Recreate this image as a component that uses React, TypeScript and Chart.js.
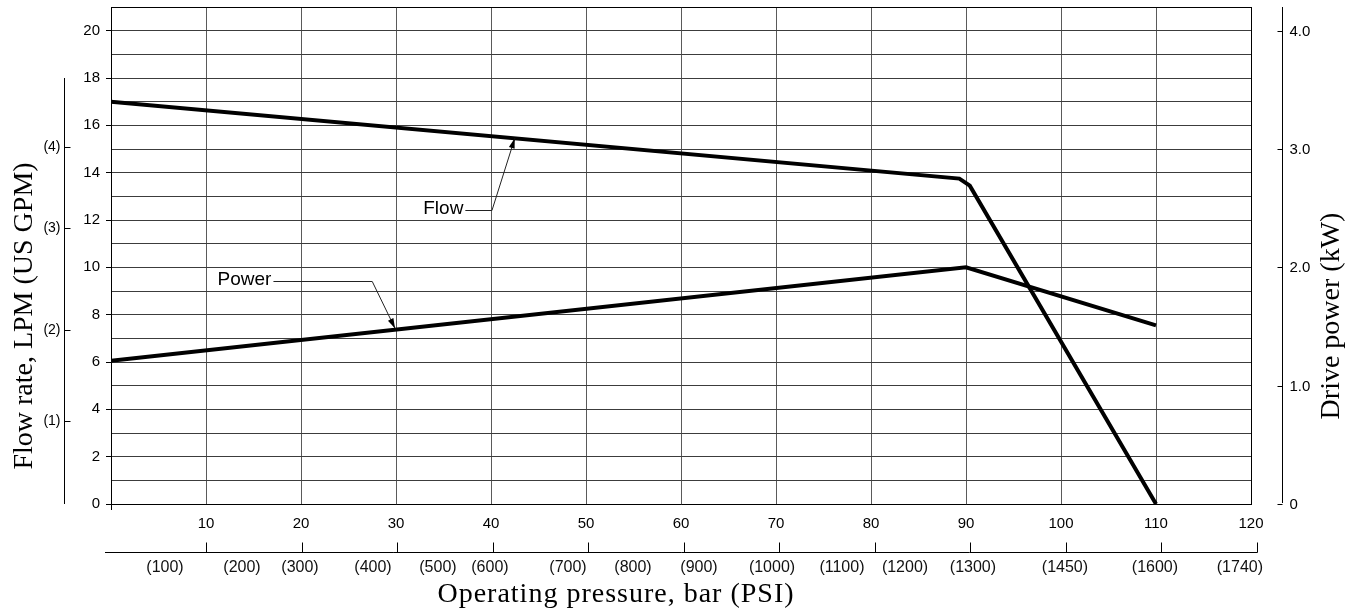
import { useEffect, useRef } from 'react';
import { Chart, registerables } from 'chart.js';

Chart.register(...registerables);

// ---- data ----
const flowPressureBar = [0, 89.3, 90.4, 110];
const flowLpm = [17.0, 13.75, 13.45, 0];
const powerPressureBar = [0, 90, 110];
const powerKw = [1.21, 2.0, 1.51];

const gpmTickLabels = ['(1)', '(2)', '(3)', '(4)'];
const gpmTickLpm = [3.5, 7.35, 11.65, 15.1];
const gpmAxisTopLpm = 18;

const kwTickValues = [0, 1, 2, 3, 4];
const kwTickLabels = ['0', '1.0', '2.0', '3.0', '4.0'];

const psiAxisTickBar = [10, 20, 30, 40, 50, 60, 70, 80, 90, 100, 110, 120];
const psiTickLabels = ['(100)', '(200)', '(300)', '(400)', '(500)', '(600)', '(700)', '(800)', '(900)', '(1000)', '(1100)', '(1200)', '(1300)', '(1450)', '(1600)', '(1740)'];
const psiTickBar = [5.71, 13.77, 19.84, 27.48, 34.28, 39.72, 47.89, 54.69, 61.6, 69.24, 76.56, 83.16, 90.27, 99.9, 109.32, 118.21];

const yTitle = 'Flow rate, LPM (US GPM)';
const y2Title = 'Drive power (kW)';
const xTitle = 'Operating pressure, bar (PSI)';
const flowNoteText = 'Flow';
const powerNoteText = 'Power';

const SANS = '"Liberation Sans", Arial, sans-serif';
const SERIF = '"Liberation Serif", "Times New Roman", serif';

function drawArrow(ctx: CanvasRenderingContext2D, x1: number, y1: number, x2: number, y2: number) {
  ctx.beginPath();
  ctx.moveTo(x1, y1);
  ctx.lineTo(x2, y2);
  ctx.stroke();
  const a = Math.atan2(y2 - y1, x2 - x1);
  const L = 10, W = 3;
  ctx.beginPath();
  ctx.moveTo(x2, y2);
  ctx.lineTo(x2 - L * Math.cos(a) + W * Math.sin(a), y2 - L * Math.sin(a) - W * Math.cos(a));
  ctx.lineTo(x2 - L * Math.cos(a) - W * Math.sin(a), y2 - L * Math.sin(a) + W * Math.cos(a));
  ctx.closePath();
  ctx.fill();
}

const decorPlugin = {
  id: 'decor',
  afterDraw(chart: any) {
    const ctx: CanvasRenderingContext2D = chart.ctx;
    const { left, top, bottom } = chart.chartArea;
    const x = chart.scales.x;
    const y = chart.scales.y;
    const y2 = chart.scales.y2;
    const x2 = chart.scales.x2;
    const r = (v: number) => Math.round(v) + 0.5;
    ctx.save();
    ctx.strokeStyle = '#000';
    ctx.fillStyle = '#000';
    ctx.lineWidth = 1;

    // GPM secondary axis
    const gx = 64.5;
    ctx.beginPath();
    ctx.moveTo(gx, y.getPixelForValue(gpmAxisTopLpm));
    ctx.lineTo(gx, y.getPixelForValue(0));
    ctx.stroke();
    ctx.font = `14px ${SANS}`;
    ctx.textAlign = 'right';
    ctx.textBaseline = 'middle';
    gpmTickLpm.forEach((v, i) => {
      const py = r(y.getPixelForValue(v));
      ctx.beginPath();
      ctx.moveTo(gx, py);
      ctx.lineTo(gx + 6, py);
      ctx.stroke();
      ctx.fillText(gpmTickLabels[i], gx - 4, py);
    });

    // kW axis
    const kx = 1282.5;
    ctx.beginPath();
    ctx.moveTo(kx, top);
    ctx.lineTo(kx, bottom - 1);
    ctx.stroke();
    ctx.font = `15px ${SANS}`;
    ctx.textAlign = 'left';
    kwTickValues.forEach((v, i) => {
      const py = r(y2.getPixelForValue(v));
      ctx.beginPath();
      ctx.moveTo(kx - 5, py);
      ctx.lineTo(kx, py);
      ctx.stroke();
      ctx.fillText(kwTickLabels[i], kx + 7, py);
    });

    // PSI axis
    const pyl = 552.5;
    ctx.beginPath();
    ctx.moveTo(left - 6, pyl);
    ctx.lineTo(r(x2.getPixelForValue(120)), pyl);
    ctx.stroke();
    psiAxisTickBar.forEach((v) => {
      const px = r(x2.getPixelForValue(v));
      ctx.beginPath();
      ctx.moveTo(px, pyl - 10);
      ctx.lineTo(px, pyl);
      ctx.stroke();
    });
    ctx.font = `16px ${SANS}`;
    ctx.textAlign = 'center';
    ctx.fillStyle = '#111';
    psiTickBar.forEach((v, i) => {
      ctx.fillText(psiTickLabels[i], x2.getPixelForValue(v), 568);
    });
    ctx.fillStyle = '#000';

    // titles
    ctx.font = `28px ${SERIF}`;
    ctx.textAlign = 'center';
    ctx.textBaseline = 'alphabetic';
    ctx.save();
    ctx.translate(32, 316);
    ctx.rotate(-Math.PI / 2);
    ctx.fillText(yTitle, 0, 0);
    ctx.restore();
    ctx.save();
    ctx.translate(1339, 316);
    ctx.rotate(-Math.PI / 2);
    ctx.fillText(y2Title, 0, 0);
    ctx.restore();
    (ctx as any).letterSpacing = '1px';
    ctx.fillText(xTitle, 616, 602);
    (ctx as any).letterSpacing = '0px';

    // annotations
    ctx.font = `19px ${SANS}`;
    ctx.textAlign = 'right';
    ctx.textBaseline = 'middle';
    ctx.strokeStyle = '#222';
    ctx.lineWidth = 1;
    // Flow
    {
      const sx = x.getPixelForValue(37.3);
      const ex = x.getPixelForValue(40.1);
      const ly = r(y.getPixelForValue(12.42));
      ctx.fillText(flowNoteText, sx - 2, ly - 2);
      ctx.beginPath();
      ctx.moveTo(sx, ly);
      ctx.lineTo(ex, ly);
      ctx.stroke();
      drawArrow(ctx, ex, ly, x.getPixelForValue(42.5), y.getPixelForValue(15.45));
    }
    // Power
    {
      const sx = x.getPixelForValue(17.1);
      const ex = x.getPixelForValue(27.5);
      const ly = r(y.getPixelForValue(9.42));
      ctx.fillText(powerNoteText, sx - 2, ly - 2);
      ctx.beginPath();
      ctx.moveTo(sx, ly);
      ctx.lineTo(ex, ly);
      ctx.stroke();
      drawArrow(ctx, ex, ly, x.getPixelForValue(29.9), y.getPixelForValue(7.42));
    }
    ctx.restore();
  },
};

export default function App() {
  const ref = useRef<HTMLCanvasElement | null>(null);
  useEffect(() => {
    if (!ref.current) return;
    const flowPts = flowPressureBar.map((b, i) => ({ x: b, y: flowLpm[i] }));
    const powerPts = powerPressureBar.map((b, i) => ({ x: b, y: powerKw[i] }));
    const chart = new Chart(ref.current, {
      type: 'line',
      data: {
        datasets: [
          { label: 'Flow', data: flowPts, xAxisID: 'x', yAxisID: 'y', borderColor: '#000', borderWidth: 4, pointRadius: 0, fill: false, tension: 0 },
          { label: 'Power', data: powerPts, xAxisID: 'x', yAxisID: 'y2', borderColor: '#000', borderWidth: 4, pointRadius: 0, fill: false, tension: 0 },
          { label: 'Flow-stripe', data: flowPts, xAxisID: 'x', yAxisID: 'y', borderColor: 'rgba(255,255,255,0.45)', borderWidth: 0.8, pointRadius: 0, fill: false, tension: 0 },
          { label: 'Power-stripe', data: powerPts, xAxisID: 'x', yAxisID: 'y2', borderColor: 'rgba(255,255,255,0.45)', borderWidth: 0.8, pointRadius: 0, fill: false, tension: 0 },
        ],
      },
      options: {
        responsive: false,
        animation: false,
        devicePixelRatio: 1,
        layout: { padding: { top: 7, left: 0, right: 105, bottom: 0 } },
        plugins: { legend: { display: false }, tooltip: { enabled: false } },
        events: [],
        scales: {
          x: {
            type: 'linear',
            position: 'bottom',
            min: 0,
            max: 120,
            ticks: {
              stepSize: 10,
              padding: 5,
              autoSkip: false,
              maxRotation: 0,
              color: '#000',
              font: { family: SANS, size: 15 },
              callback: (v: any) => (v === 0 ? '' : String(v)),
            },
            grid: {
              color: (c: any) => (c.tick && c.tick.value === 120 ? '#000' : '#5a5a5a'),
              lineWidth: 1,
              drawTicks: true,
              tickLength: 6,
              tickColor: (c: any) => (c.tick && c.tick.value === 0 ? '#000' : 'rgba(0,0,0,0)'),
            },
            border: { color: '#000', width: 1 },
            afterFit: (s: any) => {
              s.height = 109;
              s.paddingLeft = 0;
              s.paddingRight = 0;
            },
          },
          y: {
            type: 'linear',
            position: 'left',
            min: 0,
            max: 21,
            ticks: {
              stepSize: 1,
              padding: 6,
              autoSkip: false,
              color: '#000',
              font: { family: SANS, size: 15 },
              callback: (v: any) => (v % 2 === 0 && v <= 20 ? String(v) : ''),
            },
            grid: {
              color: (c: any) => (c.tick && c.tick.value === 21 ? '#000' : '#3c3c3c'),
              lineWidth: 1,
              tickLength: 5,
              tickColor: (c: any) => (c.tick && c.tick.value % 2 === 0 && c.tick.value <= 20 ? '#000' : 'rgba(0,0,0,0)'),
            },
            border: { color: '#000', width: 1 },
            afterFit: (s: any) => {
              s.width = 111;
              s.paddingTop = 0;
              s.paddingBottom = 0;
            },
          },
          y2: { type: 'linear', position: 'right', display: false, min: 0, max: 4.2 },
          x2: { type: 'linear', position: 'bottom', display: false, min: 0.06, max: 119.37 },
        },
      } as any,
      plugins: [decorPlugin],
    });
    return () => chart.destroy();
  }, []);
  return (
    <div style={{ position: 'absolute', left: 0, top: 0, width: 1356, height: 613, background: '#fff' }}>
      <canvas ref={ref} width={1356} height={613} style={{ display: 'block', width: 1356, height: 613 }} />
    </div>
  );
}
